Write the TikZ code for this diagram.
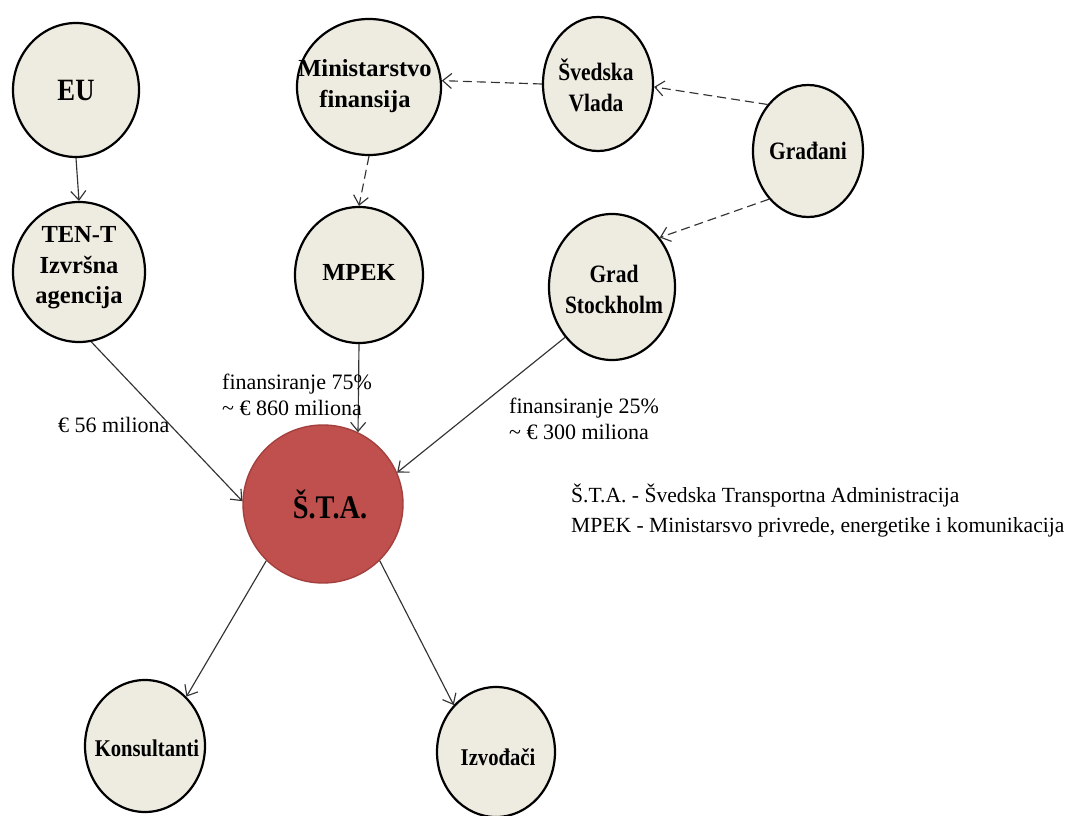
\documentclass[tikz,border=0pt]{standalone}
\usepackage{fontspec}
\setmainfont{Liberation Serif}
\newfontfamily\narrowbold{Liberation Serif}[FakeStretch=0.86]
\usetikzlibrary{shapes.geometric,arrows.meta}
\definecolor{beige}{HTML}{EEECE1}
\definecolor{stared}{HTML}{C0504D}
\definecolor{staborder}{HTML}{A3403D}
\definecolor{linegray}{HTML}{333333}
\tikzset{
  entity/.style={ellipse, draw=black, line width=2.2pt, fill=beige, inner sep=0pt},
  etext/.style={inner sep=0pt, align=center, font=\narrowbold\bfseries\fontsize{25}{31}\selectfont},
  wtext/.style={etext, font=\bfseries\fontsize{24.5}{30.5}\selectfont},
  flow/.style={draw=linegray, line width=1.15pt, -{Straight Barb[length=9pt,width=15pt]}},
  dflow/.style={flow, dash pattern=on 9pt off 5pt},
  lbl/.style={inner sep=0pt, align=left, anchor=north west, font=\fontsize{22}{26}\selectfont}
}
\begin{document}
\begin{tikzpicture}[x=1pt,y=-1pt]
\useasboundingbox[fill=white] (0,0) rectangle (1072,816);
% nodes
\node[entity, minimum width=126pt, minimum height=134pt] (eu) at (76,90) {};
\node[etext, font=\narrowbold\bfseries\fontsize{31}{34}\selectfont] (eut) at (eu) {EU};
\node[entity, minimum width=144pt, minimum height=136pt] (min) at (369,87) {};
\node[wtext] (mint) at (365,86) {Ministarstvo\\finansija};
\node[entity, minimum width=110pt, minimum height=134pt] (vlada) at (598,84) {};
\node[etext] (vladat) at (596,85) {Švedska\\Vlada};
\node[entity, minimum width=110pt, minimum height=132pt] (gra) at (808,151) {};
\node[etext] (grat) at (gra) {Građani};
\node[entity, minimum width=132pt, minimum height=140pt] (ten) at (79,272) {};
\node[wtext] (tent) at (79,268) {TEN-T\\Izvršna\\agencija};
\node[entity, minimum width=128pt, minimum height=136pt] (mpek) at (359,275) {};
\node[wtext] (mpekt) at (359,272) {MPEK};
\node[entity, minimum width=126pt, minimum height=146pt] (grad) at (612,287) {};
\node[etext] (gradt) at (614,289) {Grad\\Stockholm};
\node[ellipse, draw=staborder, line width=1.4pt, fill=stared, inner sep=0pt,
  minimum width=160pt, minimum height=158pt] (sta) at (323,504) {};
\node[etext, font=\narrowbold\bfseries\fontsize{33}{36}\selectfont] (statext) at (330,504) {Š.T.A.};
\node[entity, minimum width=120pt, minimum height=132pt] (kon) at (145,746) {};
\node[etext, font=\narrowbold\bfseries\fontsize{24}{28}\selectfont] (kont) at (147,748) {Konsultanti};
\node[entity, minimum width=118pt, minimum height=130pt] (izv) at (496,752) {};
\node[etext, font=\narrowbold\bfseries\fontsize{24}{28}\selectfont] (izvt) at (498,757) {Izvođači};
% connectors
\draw[flow] (eu.south) -- (ten.north);
\draw[dflow] (min.south) -- (mpek.north);
\draw[dflow] (vlada.west) -- (min.5);
\draw[dflow] (gra.131) -- (vlada.-3);
\draw[dflow] (gra.-129) -- (grad.46);
\draw[flow] (ten.-80) -- (sta.178);
\draw[flow] (mpek.south) -- (sta.64);
\draw[flow] (grad.-133) -- (sta.23);
\draw[flow] (sta.-135) -- (kon.50);
\draw[flow] (sta.-45) -- (izv.132);
% labels
\node[lbl, anchor=base west] (l56) at (58,432) {€ 56 miliona};
\node[lbl] (l75) at (222,374) {finansiranje 75\%\\\textasciitilde\ € 860 miliona};
\node[lbl] (l25) at (509,398) {finansiranje 25\%\\\textasciitilde\ € 300 miliona};
\node[lbl, font=\fontsize{21.6}{30}\selectfont] (legend) at (571,484) {Š.T.A. - Švedska Transportna Administracija\\MPEK - Ministarsvo privrede, energetike i komunikacija};
\end{tikzpicture}
\end{document}
